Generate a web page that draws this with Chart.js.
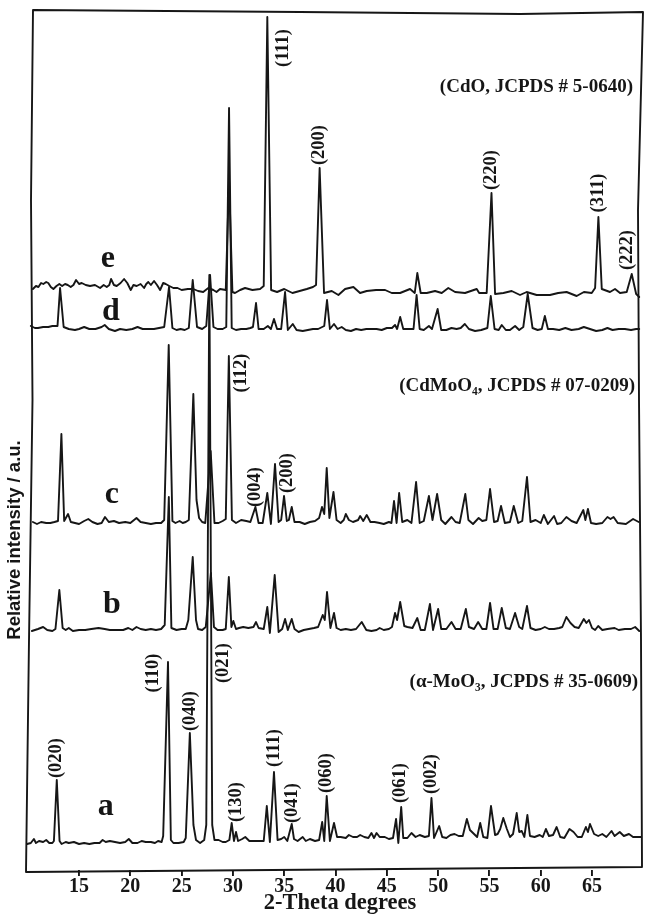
<!DOCTYPE html>
<html>
<head>
<meta charset="utf-8">
<style>html,body{margin:0;padding:0;background:#fff}canvas{display:block}</style>
<script src="https://cdn.jsdelivr.net/npm/chart.js@4"></script>
</head>
<body>
<canvas id="c" width="652" height="914"></canvas>
<script>
const tickValues = [15,20,25,30,35,40,45,50,55,60,65];
const traceNames = ['a','b','c','d','e'];

const traceA = [[9.93,26],[10.3,27],[10.6,31],[10.8,27],[11.1,29],[11.5,28],[11.8,30],[12.1,27],[12.4,27],[12.55,29],[12.83,90],[13.1,29],[13.3,26],[13.7,28],[14,27],[14.5,28],[15,26],[15.5,27],[16,26],[16.5,27],[17,27],[17.3,30],[17.6,28],[18,29],[18.5,28],[19,27],[19.5,28],[19.85,31],[20.2,27],[20.7,27],[21.1,29],[21.5,28],[22,28],[22.4,27],[22.7,29],[23.05,28],[23.2,34],[23.67,208],[23.95,30],[24.2,27],[24.7,27],[25.2,28],[25.4,32],[25.8,137],[26.15,45],[26.4,30],[26.8,27],[27.2,30],[27.4,45],[27.7,595],[27.98,45],[28.2,30],[28.6,30],[29,28],[29.3,28],[29.65,30],[29.88,47],[30.1,29],[30.3,38],[30.5,29],[30.9,31],[31.2,33],[31.6,29],[32,29],[32.5,29],[33,29],[33.3,64],[33.6,28],[34.0,98],[34.35,30],[34.7,31],[35,33],[35.3,29],[35.73,46],[35.95,31],[36.3,29],[36.8,33],[37.1,29],[37.5,31],[38,29],[38.4,30],[38.7,48],[38.9,29],[39.14,74],[39.45,29],[39.85,47],[40.15,33],[40.5,33],[41,32],[41.3,35],[41.7,33],[42.1,33],[42.4,35],[42.8,33],[43.2,32],[43.5,37],[43.75,32],[44,37],[44.3,33],[44.8,33],[45.2,31],[45.6,32],[45.9,51],[46.12,27],[46.4,63],[46.6,32],[47,32],[47.4,37],[47.8,33],[48.2,35],[48.7,33],[49.1,34],[49.35,72],[49.6,32],[50.1,44],[50.4,33],[50.8,32],[51.2,35],[51.6,36],[52,34],[52.4,34],[52.8,51],[53.1,40],[53.5,36],[53.8,33],[54.1,47],[54.4,33],[54.8,32],[55.15,64],[55.55,35],[55.8,36],[56.05,41],[56.35,52],[56.7,41],[57,33],[57.3,36],[57.66,57],[57.9,38],[58.15,39],[58.4,33],[58.7,55],[58.95,34],[59.4,33],[59.9,35],[60.2,33],[60.5,41],[60.8,34],[61.2,35],[61.55,43],[61.9,33],[62.3,32],[62.8,41],[63.2,38],[63.6,33],[64,33],[64.4,43],[64.6,38],[64.8,46],[65.2,36],[65.6,34],[66,36],[66.4,33],[66.9,39],[67.2,34],[67.7,38],[68.1,34],[68.6,36],[69,33],[69.8,33]];

const traceB = [[10.4,239],[10.7,240],[11,241],[11.5,243],[11.9,240],[12.4,239],[12.7,241],[13.08,280],[13.4,242],[13.7,240],[14,242],[14.4,239],[15,240],[15.6,240],[16.2,241],[16.9,242],[17.5,241],[18,240],[18.7,240],[19.3,240],[19.8,242],[20.2,240],[20.6,243],[21,241],[21.5,240],[22,241],[22.5,240],[23,241],[23.35,245],[23.75,373],[24.0,242],[24.5,240],[25,241],[25.4,241],[25.65,250],[26.08,313],[26.4,250],[26.6,241],[27,240],[27.35,243],[27.85,297],[28.15,243],[28.5,240],[29,240],[29.3,241],[29.6,293],[29.85,243],[30.04,249],[30.3,241],[30.6,242],[31,243],[31.5,242],[32,243],[32.25,248],[32.5,242],[33,241],[33.35,263],[33.6,237],[34.07,295],[34.45,238],[34.8,241],[35.08,251],[35.35,240],[35.73,251],[36,241],[36.4,238],[36.9,240],[37.4,241],[37.9,242],[38.3,243],[38.75,255],[38.95,250],[39.17,278],[39.5,242],[39.85,257],[40.1,242],[40.5,240],[41,241],[41.5,240],[42,241],[42.55,248],[43,240],[43.5,239],[44,240],[44.3,242],[44.7,240],[45.2,241],[45.5,243],[45.8,257],[46,250],[46.3,268],[46.7,244],[47,243],[47.5,242],[47.97,252],[48.3,240],[48.7,240],[49.2,266],[49.5,240],[50,261],[50.3,241],[50.8,241],[51.3,248],[51.7,241],[52.2,241],[52.7,261],[53,243],[53.5,241],[53.9,248],[54.3,241],[54.7,241],[55.06,267],[55.4,241],[55.8,241],[56.2,262],[56.6,242],[57,241],[57.5,257],[57.9,243],[58.2,241],[58.66,264],[59,242],[59.5,240],[60,241],[60.4,243],[60.8,241],[61.3,241],[61.8,242],[62.1,243],[62.5,253],[62.9,247],[63.3,243],[63.7,242],[64.2,251],[64.45,247],[64.7,250],[65,242],[65.3,240],[65.6,244],[66,240],[66.5,241],[67.2,242],[67.6,240],[68.2,241],[68.8,241],[69.2,243],[69.6,239]];

const traceC = [[10.5,348],[10.9,346],[11.3,348],[11.8,347],[12.2,347],[12.6,348],[12.95,349],[13.28,436],[13.55,349],[13.93,356],[14.2,348],[14.6,347],[15,346],[15.5,349],[15.9,351],[16.3,348],[16.8,346],[17.2,347],[17.53,353],[17.9,348],[18.4,349],[18.9,347],[19.5,348],[20,347],[20.6,352],[21,348],[21.5,347],[22,346],[22.5,347],[23,347],[23.3,350],[23.74,525],[24.1,349],[24.4,347],[24.8,349],[25.1,347],[25.4,348],[25.7,350],[26.14,476],[26.45,370],[26.7,352],[27,348],[27.3,347],[27.83,419],[28.2,347],[28.6,347],[29,349],[29.3,351],[29.6,514],[29.9,350],[30.3,347],[30.8,350],[31.3,349],[31.7,348],[32.19,363],[32.5,347],[32.9,347],[33.35,377],[33.7,346],[34.1,406],[34.45,348],[34.7,350],[34.98,374],[35.25,349],[35.45,350],[35.73,363],[36,348],[36.5,348],[37,346],[37.5,348],[38,349],[38.4,352],[38.68,363],[38.9,356],[39.14,402],[39.4,352],[39.8,378],[40.1,350],[40.5,347],[40.8,350],[41,356],[41.3,350],[41.7,348],[42.2,350],[42.4,354],[42.7,349],[43.04,355],[43.4,348],[43.8,348],[44.3,347],[44.7,346],[45.2,348],[45.45,347],[45.7,369],[45.95,347],[46.2,377],[46.5,348],[47,350],[47.4,347],[47.85,388],[48.2,347],[48.6,349],[49.1,374],[49.45,350],[49.9,376],[50.3,350],[50.7,346],[51.3,353],[51.7,348],[52.1,347],[52.65,376],[52.95,350],[53.4,346],[53.95,352],[54.3,349],[54.7,350],[55.06,381],[55.45,348],[55.8,349],[56.13,364],[56.5,347],[57,348],[57.37,364],[57.8,347],[58.2,349],[58.66,393],[59,348],[59.5,350],[60,347],[60.3,355],[60.7,346],[61.3,354],[61.6,346],[62,347],[62.5,353],[63,349],[63.5,347],[64.15,360],[64.35,350],[64.6,361],[64.9,347],[65.4,346],[66,347],[66.5,353],[66.8,351],[67.1,353],[67.5,347],[68.3,346],[69,351],[69.55,348]];

const traceD = [[10.3,544],[10.7,542],[11,542],[11.5,543],[12,543],[12.4,544],[12.9,544],[13.15,582],[13.5,543],[14,541],[14.6,540],[15,541],[15.5,543],[16,541],[16.6,541],[17.2,543],[17.5,545],[17.9,541],[18.5,539],[19,541],[19.6,540],[20.2,541],[20.7,543],[21.2,541],[21.8,541],[22.3,541],[22.8,542],[23.3,543],[23.77,583],[24.1,542],[24.5,540],[24.9,541],[25.3,540],[25.7,542],[26.08,590],[26.5,543],[27,541],[27.4,544],[27.77,595],[28.1,543],[28.5,541],[29,541],[29.35,543],[29.62,762],[29.88,542],[30.3,540],[30.8,541],[31.3,541],[31.7,542],[31.95,543],[32.25,567],[32.5,541],[33,541],[33.4,544],[33.7,541],[34,551],[34.3,541],[34.7,541],[35.08,578],[35.35,540],[35.83,546],[36.2,540],[36.8,539],[37.3,540],[37.8,541],[38.3,541],[38.9,544],[39.17,570],[39.45,541],[39.85,546],[40.2,541],[40.6,543],[41,540],[41.5,539],[42,541],[42.5,540],[43,541],[43.5,541],[44,541],[44.5,540],[45,542],[45.5,542],[45.8,545],[46,541],[46.3,553],[46.6,541],[47.2,541],[47.6,541],[47.9,575],[48.2,541],[48.6,540],[49.1,544],[49.4,541],[49.95,561],[50.3,540],[50.8,540],[51.3,542],[51.8,541],[52.2,542],[52.6,546],[53,541],[53.6,539],[54.2,540],[54.8,542],[55.13,574],[55.5,541],[55.9,540],[56.2,545],[56.6,540],[57,540],[57.5,544],[57.9,540],[58.3,543],[58.73,576],[59.2,542],[59.7,540],[60.1,541],[60.4,554],[60.7,541],[61.2,541],[61.8,540],[62.4,542],[63,540],[63.7,541],[64.2,543],[64.8,541],[65.4,539],[66,540],[66.5,542],[67,540],[67.6,541],[68.2,541],[68.8,540],[69.3,541],[69.6,541]];

const traceE = [[10.5,581],[10.8,584],[11.04,583],[11.3,587],[11.52,586],[11.8,588],[12.0,587],[12.25,583],[12.5,581],[12.8,584],[13.08,586],[13.35,584],[13.64,586],[13.9,585],[14.19,583],[14.45,585],[14.71,590],[15.0,586],[15.26,587],[15.65,585],[16.07,584],[16.55,585],[17.05,582],[17.4,585],[17.7,583],[17.95,585],[18.12,591],[18.4,585],[18.67,584],[19.05,587],[19.39,591],[19.7,587],[20.04,580],[20.3,585],[20.62,584],[21.0,586],[21.34,582],[21.55,586],[21.75,588],[22.0,585],[22.31,589],[22.6,585],[22.9,580],[23.2,587],[23.45,586],[23.8,584],[24.19,582],[24.6,582],[25.0,580],[25.6,581],[26.14,581],[26.6,579],[27.1,578],[27.6,582],[28.09,580],[28.4,578],[28.74,581],[29.3,580],[29.62,690],[29.95,578],[30.2,577],[30.7,580],[31.18,582],[31.9,580],[32.64,581],[33.0,584],[33.35,853],[33.72,580],[34.3,578],[35.0,581],[35.8,577],[36.5,579],[37.2,581],[37.8,583],[38.1,585],[38.45,702],[38.88,577],[39.63,579],[40.28,575],[40.93,581],[41.74,583],[42.39,577],[43.04,579],[43.95,580],[44.83,580],[45.48,577],[46.29,577],[47.26,581],[47.72,577],[47.97,597],[48.3,577],[48.89,577],[49.7,579],[50.35,577],[50.99,582],[51.65,578],[52.62,577],[53.76,581],[54.0,577],[54.73,577],[55.2,677],[55.55,576],[56.36,577],[57.17,579],[57.98,575],[58.63,578],[59.6,575],[60.9,575],[61.7,577],[62.52,578],[63.5,574],[64.21,578],[64.97,577],[65.3,582],[65.62,653],[65.95,581],[66.75,578],[67.24,581],[67.73,577],[68.38,578],[68.87,596],[69.3,576],[69.6,573]];

const hklLabels = ['(020)','(110)','(040)','(021)','(130)','(111)','(041)','(060)','(061)','(002)','(004)','(200)','(112)','(111)','(200)','(220)','(311)','(222)'];
const hklTheta = [12.76,22.21,25.82,29.04,30.3,34.0,35.76,39.14,46.35,49.28,32.15,35.27,30.76,34.88,38.39,55.22,65.58,68.41];
const hklLevel = [112,197,159,207,68,122,67,97,87,96,383,397,497,822,725,700,677,620];

const traceLetterTheta = [17.6,18.2,18.2,18.1,17.8];
const traceLetterLevel = [63,265,375,558,611];

const phaseNotes = ['(CdO, JCPDS # 5-0640)','(CdMoO₄, JCPDS # 07-0209)','(α-MoO₃, JCPDS # 35-0609)'];
const phaseNoteLevel = [783,484,188];

const yTitle = 'Relative intensity / a.u.';
const xTitle = '2-Theta degrees';

const SERIF = '"Liberation Serif","DejaVu Serif",serif';
const INK = '#161616';

const paperPlugin = {
  id:'paper',
  afterDraw(chart){
    const {ctx, scales:{x,y}} = chart;
    ctx.save();
    ctx.strokeStyle = INK; ctx.lineJoin='round'; ctx.lineCap='round';
    ctx.lineWidth = 1.9;
    ctx.beginPath();
    ctx.moveTo(33,10); ctx.lineTo(300,12); ctx.lineTo(520,14); ctx.lineTo(643,12);
    ctx.lineTo(638,210); ctx.lineTo(639,400); ctx.lineTo(641,640); ctx.lineTo(642,867);
    ctx.lineTo(26,872); ctx.lineTo(29,640); ctx.lineTo(32.5,400); ctx.lineTo(31,200); ctx.closePath();
    ctx.stroke();

    ctx.fillStyle = INK; ctx.textAlign='center'; ctx.textBaseline='middle';
    ctx.font = 'bold 18.5px '+SERIF;
    hklLabels.forEach((t,i)=>{
      ctx.save();
      ctx.translate(x.getPixelForValue(hklTheta[i]), y.getPixelForValue(hklLevel[i]));
      ctx.rotate(-Math.PI/2);
      ctx.fillText(t,0,0);
      ctx.restore();
    });

    ctx.font = 'bold 32px '+SERIF;
    traceNames.forEach((t,i)=>{
      ctx.fillText(t, x.getPixelForValue(traceLetterTheta[i]), y.getPixelForValue(traceLetterLevel[i]));
    });

    ctx.font = 'bold 19px '+SERIF;
    ctx.textAlign='right';
    phaseNotes.forEach((t,i)=>{
      ctx.fillText(t, [633,635,638][i], y.getPixelForValue(phaseNoteLevel[i]));
    });

    ctx.textAlign='center';
    ctx.font = 'bold 18.5px "Liberation Sans",Arial,sans-serif';
    ctx.save();
    ctx.translate(15,540); ctx.rotate(-Math.PI/2);
    ctx.fillText(yTitle,0,0);
    ctx.restore();

    ctx.font = 'bold 22.5px '+SERIF;
    ctx.fillText(xTitle,340,903);
    ctx.restore();
  }
};

const order = [traceA,traceB,traceC,traceD,traceE];
new Chart(document.getElementById('c'),{
  type:'line',
  data:{datasets:order.map((t,i)=>({
    label:traceNames[i],
    data:t.map(p=>({x:p[0],y:p[1]})),
    borderColor:INK,borderWidth:1.9,pointRadius:0,tension:0,fill:false,
    borderJoinStyle:'round',borderCapStyle:'round'
  }))},
  options:{
    responsive:false,animation:false,devicePixelRatio:1,
    layout:{padding:{left:26,right:10,top:12,bottom:0}},
    plugins:{legend:{display:false},tooltip:{enabled:false},title:{display:false}},
    scales:{
      x:{type:'linear',min:9.83,max:69.87,
        border:{display:false},
        grid:{display:true,drawOnChartArea:false,drawTicks:true,tickLength:6,color:INK,lineWidth:1.9},
        afterBuildTicks(s){s.ticks=tickValues.map(v=>({value:v}));},
        afterFit(s){s.height=44;},
        ticks:{autoSkip:false,maxRotation:0,padding:-1,color:INK,font:{family:SERIF,size:20,weight:'bold'},callback:v=>String(v)}
      },
      y:{type:'linear',min:0,max:858,display:false}
    }
  },
  plugins:[paperPlugin]
});
</script>
</body>
</html>
